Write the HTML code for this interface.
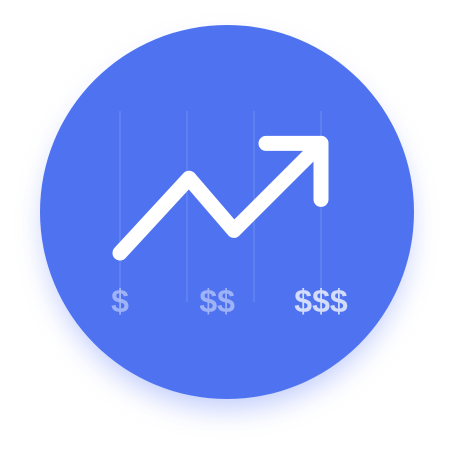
<!DOCTYPE html>
<html><head><meta charset="utf-8"><style>
html,body{margin:0;padding:0;background:#fff;width:452px;height:452px;overflow:hidden}
svg{display:block}
</style></head><body>
<svg id="chart" width="452" height="452" viewBox="0 0 452 452">
<defs>
<filter id="glow" x="-30%" y="-30%" width="160%" height="160%"><feGaussianBlur stdDeviation="14"/></filter>
</defs>
<circle cx="227" cy="226" r="182" fill="#8aa0f8" opacity="0.55" filter="url(#glow)"/>
<circle cx="227" cy="212" r="187" fill="#4f73f0"/>
<g id="grid"></g>
<g id="labels"></g>
<g id="series"></g>
</svg>
<script>
const categories = ["$", "$$", "$$$"];
const gridPositions = [0, 1, 2, 3];
const pointX = [0, 1.03, 1.7, 3];
const pointY = [0.81, 2.1, 1.2, 2.7];
const labelAt = [0, 1.45, 3];
const labelOpacity = [0.45, 0.45, 0.75];

const ns = "http://www.w3.org/2000/svg";
const xs = v => 120 + v * 67;
const ys = v => 300 - v * 58;

const grid = document.getElementById('grid');
gridPositions.forEach(g => {
  const l = document.createElementNS(ns, 'line');
  
  
  l.setAttribute('x1', xs(g)); l.setAttribute('x2', xs(g));
  l.setAttribute('y1', 111); l.setAttribute('y2', 302);
  l.setAttribute('stroke', '#ffffff'); l.setAttribute('stroke-opacity', '0.18'); l.setAttribute('stroke-width', '1');
  grid.appendChild(l);
});

const labels = document.getElementById('labels');
categories.forEach((c, i) => {
  const t = document.createElementNS(ns, 'text');
  
  
  t.setAttribute('x', xs(labelAt[i])); t.setAttribute('y', 312);
  t.setAttribute('text-anchor', 'middle');
  t.setAttribute('font-family', 'Liberation Sans, sans-serif');
  t.setAttribute('font-weight', 'bold');
  t.setAttribute('font-size', '32');
  t.setAttribute('fill', '#ffffff'); t.setAttribute('fill-opacity', labelOpacity[i]);
  t.textContent = c;
  labels.appendChild(t);
});

const series = document.getElementById('series');
const pts = pointX.map((x, i) => xs(x) + ',' + ys(pointY[i])).join(' ');
const pl = document.createElementNS(ns, 'polyline');


pl.setAttribute('points', pts);
pl.setAttribute('fill', 'none'); pl.setAttribute('stroke', '#ffffff');
pl.setAttribute('stroke-width', '15'); pl.setAttribute('stroke-linecap', 'round'); pl.setAttribute('stroke-linejoin', 'round');
series.appendChild(pl);

const n = pointX.length - 1;
const ex = xs(pointX[n]), ey = ys(pointY[n]);
const head = document.createElementNS(ns, 'polyline');


head.setAttribute('points', (ex - 55) + ',' + ey + ' ' + ex + ',' + ey + ' ' + ex + ',' + (ey + 56));
head.setAttribute('fill', 'none'); head.setAttribute('stroke', '#ffffff');
head.setAttribute('stroke-width', '15'); head.setAttribute('stroke-linecap', 'round'); head.setAttribute('stroke-linejoin', 'round');
series.appendChild(head);
</script>
</body></html>
